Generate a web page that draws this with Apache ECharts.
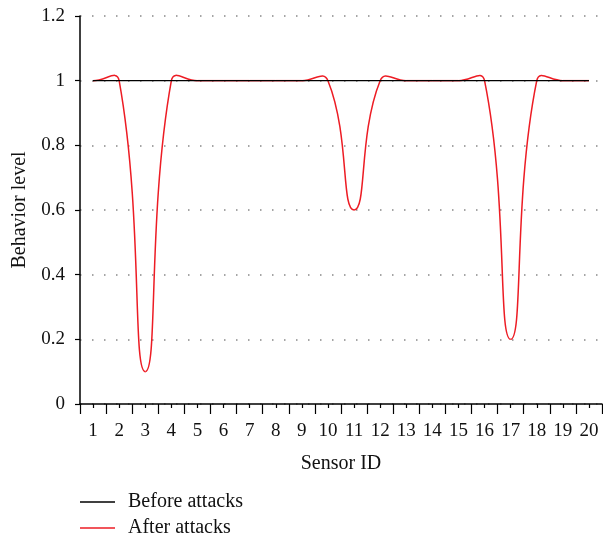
<!DOCTYPE html>
<html>
<head>
    <meta charset="utf-8">
    <script src="https://cdn.jsdelivr.net/npm/echarts@6/dist/echarts.min.js"></script>
</head>
<body style="margin: 0">
    <div id="container" style="width: 603px; height: 539px"></div>
    <script>
        // sensor ids on the x axis
        var sensors = ['1', '2', '3', '4', '5', '6', '7', '8', '9', '10',
            '11', '12', '13', '14', '15', '16', '17', '18', '19', '20'];
        var before = [1, 1, 1, 1, 1, 1, 1, 1, 1, 1, 1, 1, 1, 1, 1, 1, 1, 1, 1, 1];
        var after = [1, 1, 0.1, 1, 1, 1, 1, 1, 1, 1, 0.6, 1, 1, 1, 1, 1, 0.2, 1, 1, 1];

        var font = 'Liberation Serif';
        var red = '#ed1c24';
        var smooth = 0.5;
        var myChart = echarts.init(document.getElementById('container'));

        // old style bezier smoothing (lets the curve overshoot like the original)
        function controlPoints(pts) {
            var cps = [];
            for (var i = 0; i < pts.length; i++) {
                var p = pts[i];
                var prev = pts[i - 1] || p;
                var next = pts[i + 1] || p;
                var vx = next[0] - prev[0], vy = next[1] - prev[1];
                var d0 = Math.hypot(p[0] - prev[0], p[1] - prev[1]);
                var d1 = Math.hypot(p[0] - next[0], p[1] - next[1]);
                var sum = d0 + d1;
                if (sum) { d0 /= sum; d1 /= sum; }
                cps.push({
                    c0: [p[0] - vx * smooth * d0, p[1] - vy * smooth * d0],
                    c1: [p[0] + vx * smooth * d1, p[1] + vy * smooth * d1]
                });
            }
            return cps;
        }

        function renderCurve(params, api) {
            var i = params.dataIndex;
            if (i >= after.length - 1) return;
            var pts = after.map(function (v, k) { return api.coord([k, v]); });
            var cps = controlPoints(pts);
            return {
                type: 'bezierCurve',
                shape: {
                    x1: pts[i][0], y1: pts[i][1],
                    cpx1: cps[i].c1[0], cpy1: cps[i].c1[1],
                    cpx2: cps[i + 1].c0[0], cpy2: cps[i + 1].c0[1],
                    x2: pts[i + 1][0], y2: pts[i + 1][1]
                },
                style: { stroke: red, lineWidth: 1.5, fill: null }
            };
        }

        var option = {
            animation: false,
            textStyle: { fontFamily: font },
            grid: { left: 80, right: 1, top: 16, bottom: 135 },
            legend: {
                orient: 'vertical',
                left: 80,
                top: 492,
                padding: 0,
                itemWidth: 35,
                itemHeight: 1.5,
                itemGap: 6,
                icon: 'rect',
                textStyle: { fontFamily: font, fontSize: 20, color: '#111', lineHeight: 20, padding: [0, 0, 0, 8] },
                data: [
                    { name: 'Before attacks', itemStyle: { color: '#000' } },
                    { name: 'After attacks', itemStyle: { color: red } }
                ]
            },
            xAxis: [{
                type: 'category',
                data: sensors,
                boundaryGap: true,
                name: 'Sensor ID',
                nameLocation: 'middle',
                nameGap: 50,
                nameTextStyle: { fontFamily: font, fontSize: 20, color: '#111' },
                axisLine: { lineStyle: { color: '#000', width: 1.5 } },
                axisTick: { show: true, length: 10, interval: 0, lineStyle: { color: '#000', width: 1.2 } },
                axisLabel: { fontFamily: font, fontSize: 19, color: '#111', margin: 18, interval: 0 },
                splitLine: { show: false }
            }, {
                type: 'category',
                data: sensors,
                position: 'bottom',
                axisLine: { show: false },
                axisTick: { show: true, alignWithLabel: true, interval: 0, length: 4, lineStyle: { color: '#000', width: 1.2 } },
                axisLabel: { show: false },
                splitLine: { show: false }
            }],
            yAxis: {
                type: 'value',
                min: 0,
                max: 1.2,
                interval: 0.2,
                name: 'Behavior level',
                nameLocation: 'middle',
                nameGap: 50,
                nameTextStyle: { fontFamily: font, fontSize: 20, color: '#111' },
                axisLine: { show: true, lineStyle: { color: '#000', width: 1.5 } },
                axisTick: { show: true, length: 5, lineStyle: { color: '#000', width: 1.2 } },
                axisLabel: { fontFamily: font, fontSize: 19, color: '#111', margin: 15 },
                splitLine: { show: true, lineStyle: { color: '#888', width: 1.5, type: [1.5, 10.5] } }
            },
            series: [{
                name: 'Before attacks',
                type: 'line',
                data: before,
                showSymbol: false,
                color: '#000',
                lineStyle: { color: '#000', width: 1.4 }
            }, {
                name: 'After attacks',
                type: 'custom',
                coordinateSystem: 'cartesian2d',
                data: after.map(function (v, i) { return [i, v]; }),
                renderItem: renderCurve,
                itemStyle: { color: red },
                z: 3
            }]
        };

        myChart.setOption(option);
    </script>
</body>
</html>
